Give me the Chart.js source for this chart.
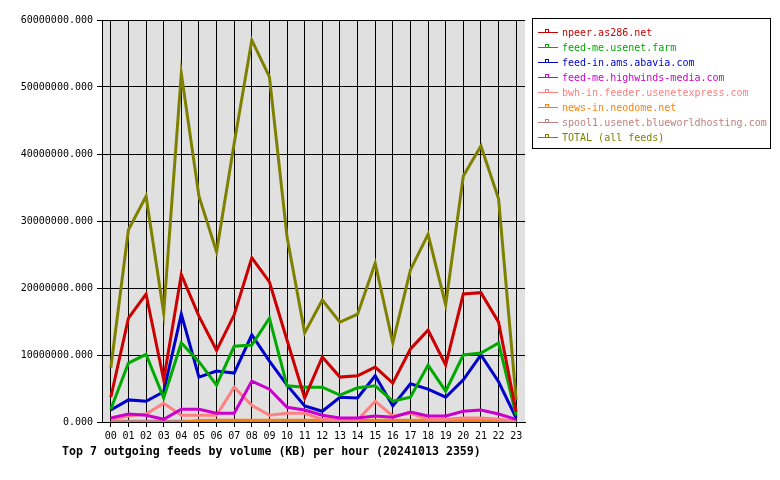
<!DOCTYPE html>
<html>
<head>
<meta charset="utf-8">
<script src="https://cdn.jsdelivr.net/npm/chart.js@4/dist/chart.umd.min.js"></script>
<style>
  body { margin: 0; background: #fff; }
  #wrap { width: 780px; height: 480px; }
</style>
</head>
<body>
<div id="wrap"><canvas id="feedsChart" width="780" height="480"></canvas></div>
<script>
const hours = ['00','01','02','03','04','05','06','07','08','09','10','11',
               '12','13','14','15','16','17','18','19','20','21','22','23'];

const feedNames = ['npeer.as286.net', 'feed-me.usenet.farm', 'feed-in.ams.abavia.com',
                   'feed-me.highwinds-media.com', 'bwh-in.feeder.usenetexpress.com',
                   'news-in.neodome.net', 'spool1.usenet.blueworldhosting.com', 'TOTAL (all feeds)'];
const feedColors = ['#cc0000', '#00aa00', '#0000cc', '#cc00cc', '#ff8080', '#ff8000', '#c08080', '#808000'];

// KB per hour
const npeer     = [3700000, 15500000, 19100000, 6300000, 22000000, 15800000, 10700000, 16000000, 24500000, 20900000, 12200000, 3600000,
                   9700000, 6700000, 6900000, 8200000, 5800000, 10900000, 13700000, 8500000, 19100000, 19300000, 14900000, 1500000];
const usenetFarm= [1900000, 8800000, 10100000, 3600000, 11800000, 9000000, 5500000, 11300000, 11500000, 15500000, 5400000, 5200000,
                   5200000, 4000000, 5100000, 5400000, 3100000, 3700000, 8500000, 4600000, 10000000, 10300000, 11800000, 1000000];
const abavia    = [1800000, 3300000, 3100000, 4500000, 16100000, 6700000, 7600000, 7300000, 13000000, 9100000, 5500000, 2400000,
                   1600000, 3700000, 3600000, 6900000, 2400000, 5700000, 4900000, 3700000, 6300000, 10000000, 6000000, 600000];
const highwinds = [600000, 1200000, 1000000, 400000, 1900000, 1900000, 1300000, 1300000, 6100000, 4900000, 2200000, 1800000,
                   1000000, 600000, 600000, 900000, 700000, 1500000, 900000, 900000, 1600000, 1800000, 1200000, 400000];
const usenetExp = [400000, 900000, 1200000, 2800000, 1000000, 1000000, 1000000, 5200000, 2500000, 1000000, 1300000, 1300000,
                   400000, 300000, 300000, 3100000, 900000, 1300000, 400000, 400000, 600000, 600000, 400000, 100000];
const neodome   = [0, 0, 0, 0, 0, 300000, 350000, 350000, 350000, 350000, 350000, 350000,
                   350000, 350000, 350000, 350000, 350000, 350000, 350000, 350000, 350000, 350000, 350000, 0];
const bluworld  = [100000, 100000, 100000, 100000, 100000, 100000, 100000, 100000, 100000, 100000, 100000, 100000,
                   100000, 100000, 100000, 100000, 100000, 100000, 100000, 100000, 100000, 100000, 100000, 100000];
const total     = [8100000, 28700000, 33700000, 16300000, 52000000, 33700000, 25400000, 41600000, 57000000, 51500000, 27600000, 13300000,
                   18200000, 14900000, 16100000, 23700000, 11800000, 22700000, 28000000, 17500000, 36700000, 41200000, 33300000, 3300000];

const yTicks = [0, 10000000, 20000000, 30000000, 40000000, 50000000, 60000000];
const chartTitle = 'Top 7 outgoing feeds by volume (KB) per hour (20241013 2359)';

const series = [npeer, usenetFarm, abavia, highwinds, usenetExp, neodome, bluworld, total];

const mono = '"DejaVu Sans Mono", "Liberation Mono", monospace';

// grey plot background
const plotBg = {
    id: 'plotBg',
    beforeDraw: function (chart) {
        const a = chart.chartArea;
        const ctx = chart.ctx;
        ctx.save();
        ctx.fillStyle = '#e0e0e0';
        ctx.fillRect(a.left, a.top, a.right - a.left, a.bottom - a.top);
        ctx.restore();
    }
};

// legend box on the right + title under the plot
const sideLegend = {
    id: 'sideLegend',
    afterDraw: function (chart) {
        const ctx = chart.ctx;
        ctx.save();
        ctx.strokeStyle = '#000';
        ctx.lineWidth = 1;
        ctx.strokeRect(532.5, 18.5, 238, 130);
        ctx.font = '10px ' + mono;
        ctx.textBaseline = 'middle';
        ctx.textAlign = 'left';
        chart.data.datasets.forEach(function (ds, i) {
            const y = 32 + i * 15;
            ctx.strokeStyle = ds.borderColor;
            ctx.lineWidth = 1;
            ctx.beginPath();
            ctx.moveTo(538, y + 0.5);
            ctx.lineTo(558, y + 0.5);
            ctx.stroke();
            ctx.strokeRect(545.5, y - 2.5, 3, 3);
            ctx.fillStyle = ds.borderColor;
            ctx.fillText(ds.label, 562, y + 1);
        });
        ctx.fillStyle = '#000';
        ctx.font = 'bold 11.6px ' + mono;
        ctx.fillText(chartTitle, 62, 452);
        ctx.restore();
    }
};

const datasets = feedNames.map(function (name, i) {
    return {
        label: name,
        data: series[i],
        borderColor: feedColors[i],
        backgroundColor: feedColors[i],
        borderWidth: i === 5 ? 2 : 3,
        pointRadius: 0,
        tension: 0,
        fill: false
    };
});

new Chart(document.getElementById('feedsChart'), {
    type: 'line',
    data: { labels: hours, datasets: datasets },
    options: {
        responsive: false,
        animation: false,
        layout: { padding: { left: 0, top: 20, right: 255, bottom: 34 } },
        plugins: {
            legend: { display: false },
            tooltip: { enabled: false }
        },
        scales: {
            x: {
                offset: true,
                afterFit: function (scale) { scale.height = 24; },
                grid: { color: '#000', offset: false, tickLength: 5, lineWidth: 1 },
                border: { color: '#000', width: 1 },
                ticks: { color: '#000', font: { family: mono, size: 10 }, padding: 3, maxRotation: 0, autoSkip: false }
            },
            y: {
                min: 0,
                max: 60000000,
                afterFit: function (scale) { scale.width = 102; },
                afterBuildTicks: function (scale) { scale.ticks = yTicks.map(function (v) { return { value: v }; }); },
                grid: { color: '#000', tickLength: 5, lineWidth: 1 },
                border: { color: '#000', width: 1 },
                ticks: {
                    color: '#000',
                    font: { family: mono, size: 10 },
                    padding: 4,
                    callback: function (v) { return Number(v).toFixed(3); }
                }
            }
        }
    },
    plugins: [plotBg, sideLegend]
});
</script>
</body>
</html>
